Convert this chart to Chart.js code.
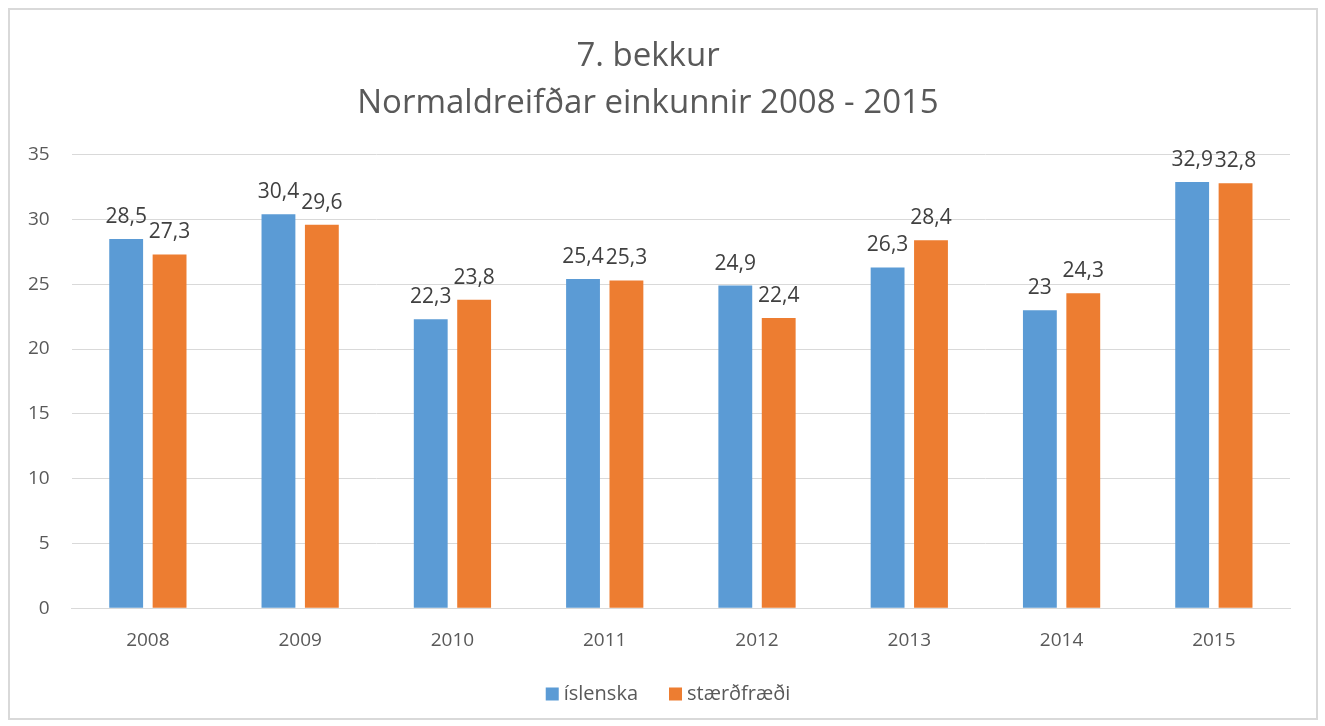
<!DOCTYPE html>
<html>
<head>
<meta charset="utf-8">
<script src="https://cdn.jsdelivr.net/npm/chart.js@4/dist/chart.umd.min.js"></script>
<style>
  body { margin: 0; background: #fff; }
  #wrap {
    position: absolute; left: 8px; top: 8px;
    width: 1306px; height: 708px;
    border: 2px solid #d9d9d9;
    background: #fff;
  }
</style>
</head>
<body>
<div id="wrap"><canvas id="chart"></canvas></div>
<script>
var years = ['2008', '2009', '2010', '2011', '2012', '2013', '2014', '2015'];
var islenska = [28.5, 30.4, 22.3, 25.4, 24.9, 26.3, 23, 32.9];
var staerdfraedi = [27.3, 29.6, 23.8, 25.3, 22.4, 28.4, 24.3, 32.8];
var yTicks = [0, 5, 10, 15, 20, 25, 30, 35];

var font = "'Open Sans', 'Noto Sans', sans-serif";

// draw value labels above each bar, with comma decimal
var barLabels = {
    id: 'barLabels',
    afterDatasetsDraw: function (chart) {
        var ctx = chart.ctx;
        ctx.save();
        ctx.font = '21px ' + font;
        ctx.fillStyle = '#404040';
        ctx.textAlign = 'center';
        ctx.textBaseline = 'alphabetic';
        chart.data.datasets.forEach(function (ds, i) {
            chart.getDatasetMeta(i).data.forEach(function (bar, j) {
                var txt = String(ds.data[j]).replace('.', ',');
                ctx.fillText(txt, bar.x, bar.y - 16);
            });
        });
        ctx.restore();
    }
};

// legend drawn by hand so the item gap can be wider than the vertical padding
var bottomLegend = {
    id: 'bottomLegend',
    afterDraw: function (chart) {
        var ctx = chart.ctx;
        var y = chart.height - 24;
        var box = 13, textGap = 5, itemGap = 31;
        ctx.save();
        ctx.font = '20px ' + font;
        ctx.textBaseline = 'middle';
        ctx.textAlign = 'left';
        var widths = chart.data.datasets.map(function (ds) {
            return box + textGap + ctx.measureText(ds.label).width;
        });
        var total = widths.reduce(function (a, b) { return a + b; }, 0) + itemGap * (widths.length - 1);
        var x = chart.width / 2 + 5 - total / 2;
        chart.data.datasets.forEach(function (ds, i) {
            ctx.fillStyle = ds.backgroundColor;
            ctx.fillRect(x, y - box / 2, box, box);
            ctx.fillStyle = '#595959';
            ctx.fillText(ds.label, x + box + textGap, y);
            x += widths[i] + itemGap;
        });
        ctx.restore();
    }
};

new Chart(document.getElementById('chart').getContext('2d'), {
    type: 'bar',
    data: {
        labels: years,
        datasets: [{
            label: 'íslenska',
            data: islenska,
            backgroundColor: '#5b9bd5'
        }, {
            label: 'stærðfræði',
            data: staerdfraedi,
            backgroundColor: '#ed7d31'
        }]
    },
    options: {
        responsive: true,
        maintainAspectRatio: false,
        animation: false,
        layout: { padding: { left: -4, right: 26, top: 6, bottom: 53 } },
        datasets: {
            bar: { categoryPercentage: 0.57, barPercentage: 0.78 }
        },
        scales: {
            x: {
                grid: { display: false },
                border: { color: '#d9d9d9', width: 1 },
                ticks: { color: '#595959', font: { family: font, size: 19 }, padding: 13 }
            },
            y: {
                min: 0,
                max: 35,
                afterBuildTicks: function (axis) {
                    axis.ticks = yTicks.map(function (v) { return { value: v }; });
                },
                grid: { color: '#d9d9d9', drawTicks: false },
                border: { display: false },
                ticks: { color: '#595959', font: { family: font, size: 19 }, padding: 22 }
            }
        },
        plugins: {
            title: {
                display: true,
                text: ['7. bekkur', 'Normaldreifðar einkunnir 2008 - 2015'],
                color: '#595959',
                font: { family: font, size: 33, weight: 'normal', lineHeight: 1.42 },
                padding: { top: 17, bottom: 28 }
            },
            legend: { display: false },
            tooltip: { enabled: false }
        }
    },
    plugins: [barLabels, bottomLegend]
});
</script>
</body>
</html>
